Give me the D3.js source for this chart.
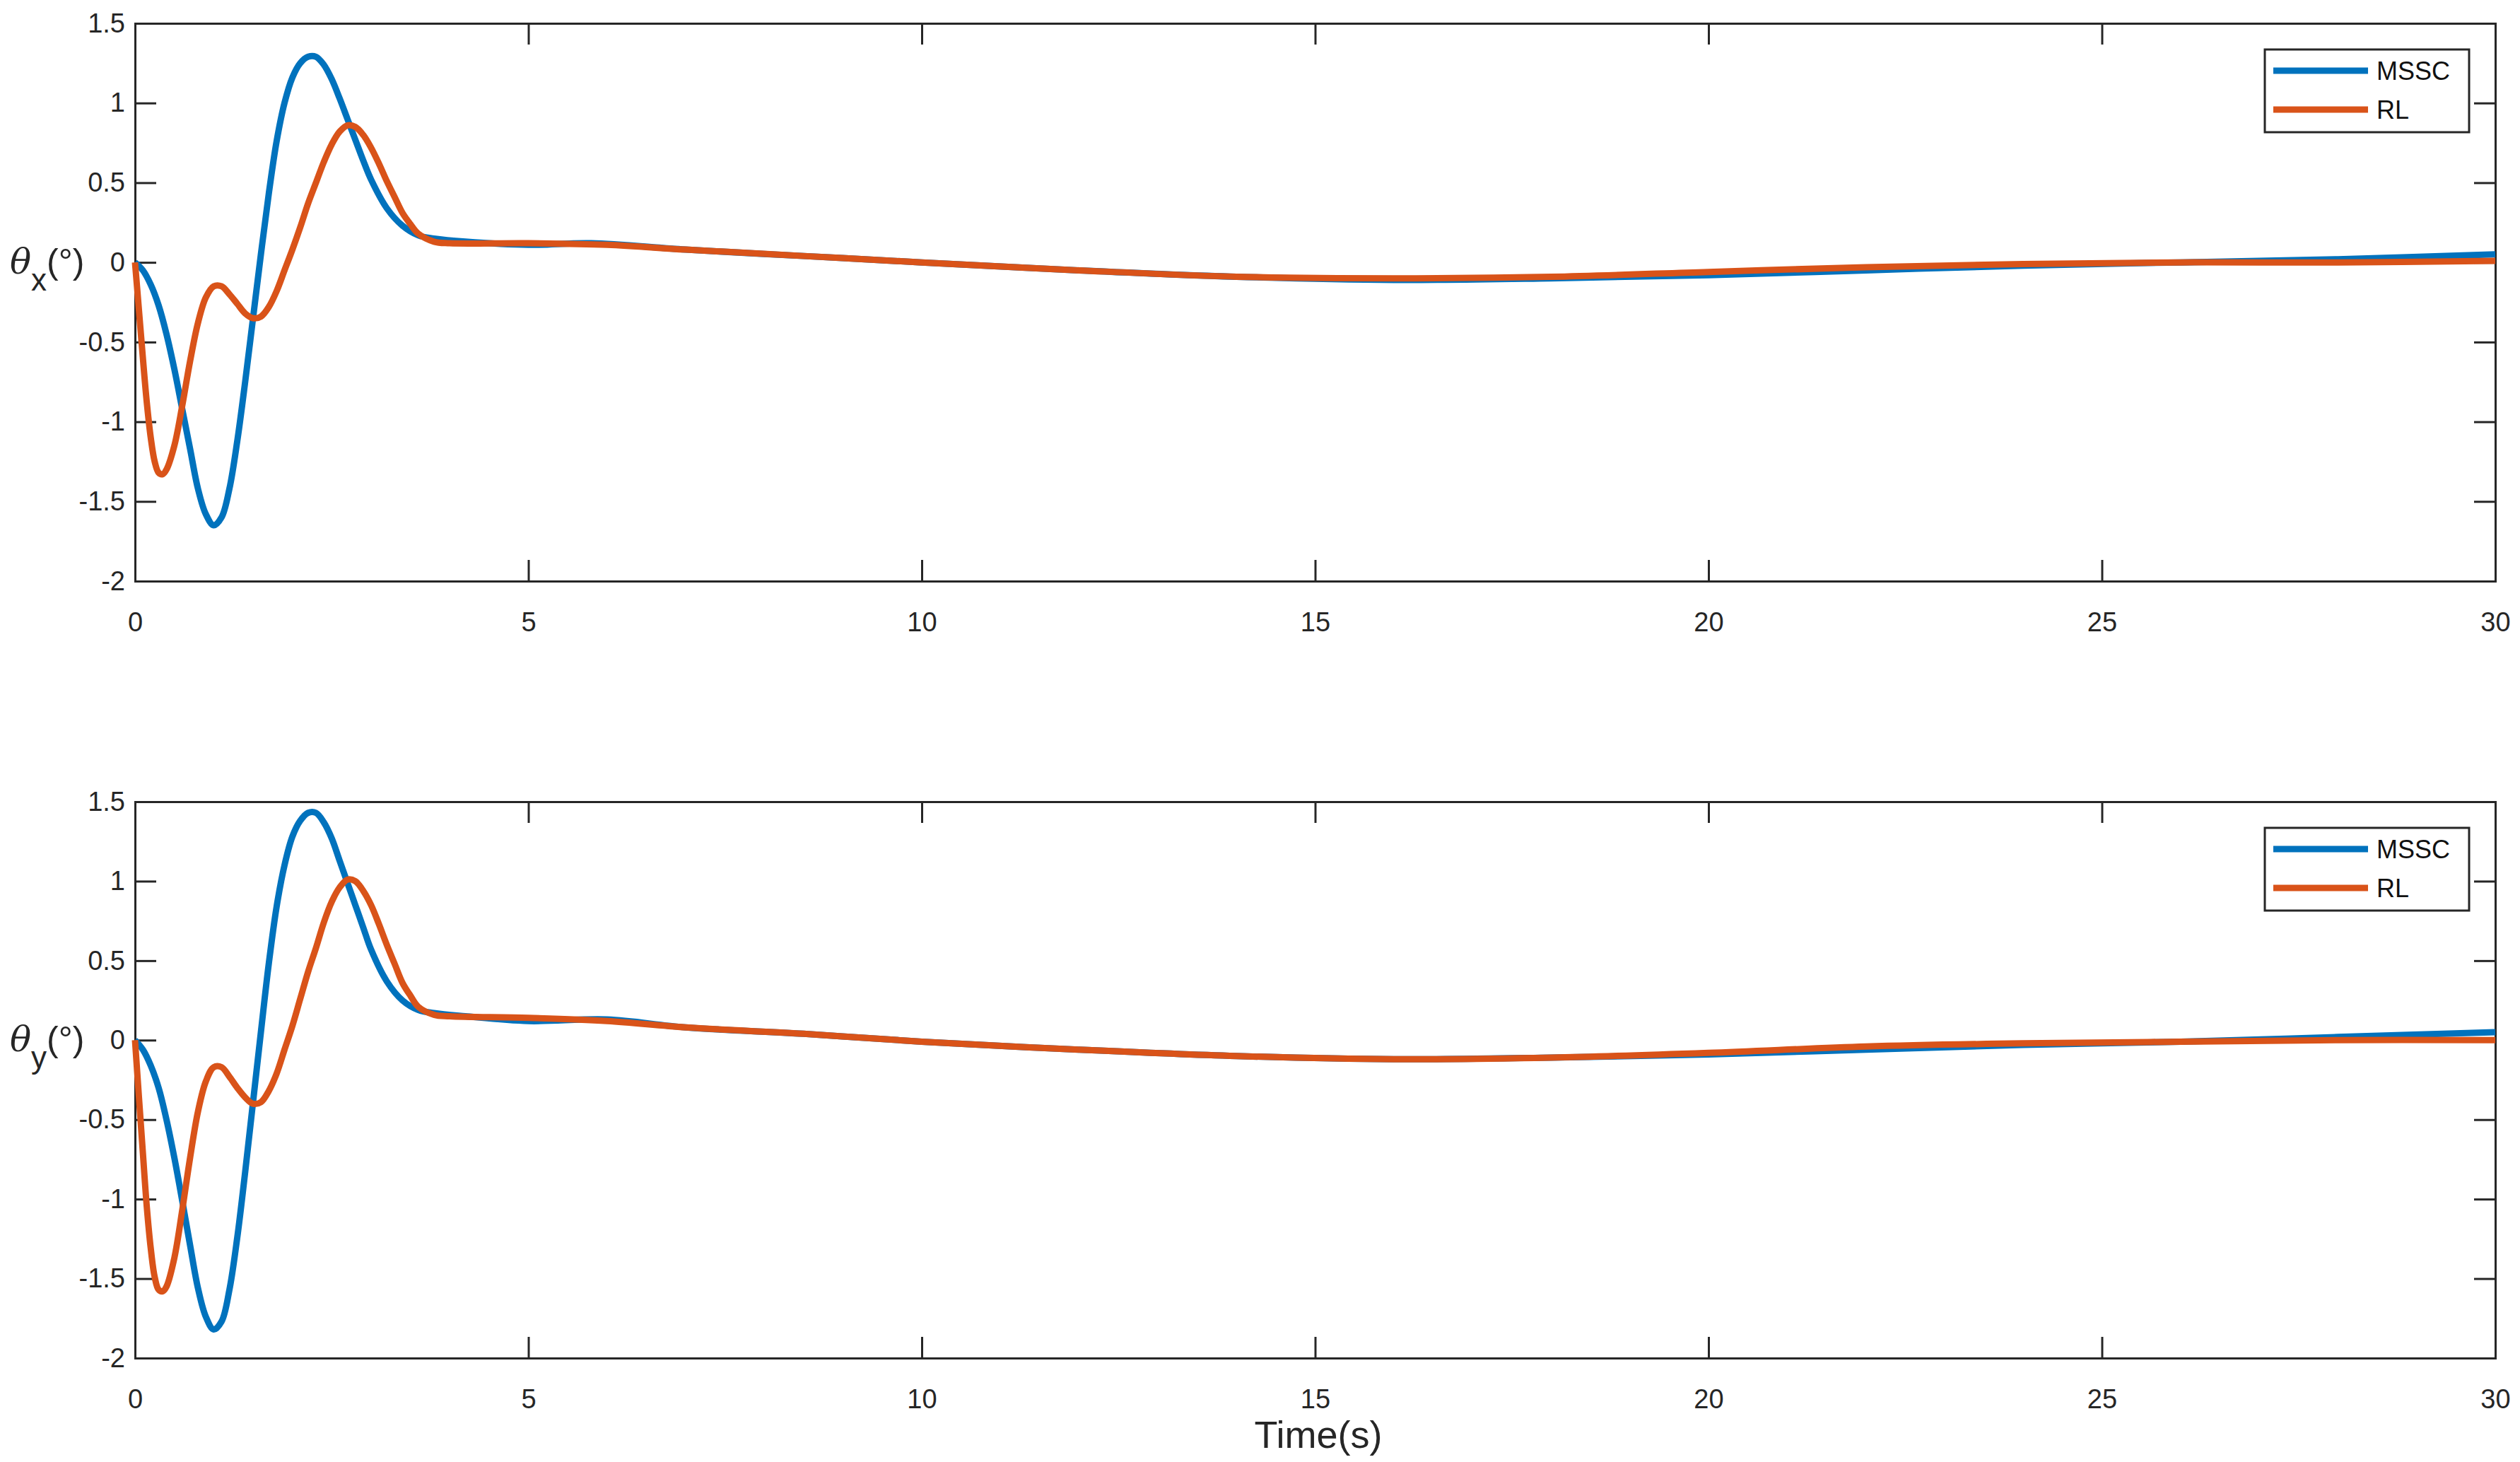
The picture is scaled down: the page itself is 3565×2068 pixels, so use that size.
<!DOCTYPE html>
<html><head><meta charset="utf-8">
<script src="https://cdn.jsdelivr.net/npm/d3@7"></script>
<style>body{margin:0;background:#fff}</style></head>
<body><svg id="c" width="3565" height="2068"></svg>
<script>
const xTicks=[0,5,10,15,20,25,30];
const yTicks=[-2,-1.5,-1,-0.5,0,0.5,1,1.5];
const seriesNames=["MSSC","RL"];
const colors=["#0072BD","#D95319"];
const tX_mssc=[[0,0],[0.1,-0.05],[0.2,-0.14],[0.3,-0.27],[0.4,-0.45],[0.5,-0.67],[0.6,-0.92],[0.7,-1.17],[0.8,-1.42],[0.9,-1.58],[1.0,-1.65],[1.1,-1.6],[1.2,-1.42],[1.3,-1.12],[1.4,-0.75],[1.5,-0.35],[1.6,0.05],[1.7,0.43],[1.8,0.76],[1.9,1.0],[2.0,1.16],[2.1,1.25],[2.2,1.29],[2.3,1.29],[2.4,1.24],[2.5,1.15],[2.6,1.03],[2.7,0.9],[2.8,0.77],[2.9,0.64],[3.0,0.52],[3.2,0.34],[3.4,0.23],[3.6,0.17],[3.8,0.15],[4.2,0.13],[5,0.11],[5.8,0.12],[7,0.08],[8.5,0.04],[10,0],[12,-0.05],[14,-0.09],[16,-0.11],[18,-0.1],[20,-0.08],[22,-0.05],[24,-0.02],[26,0],[28,0.02],[30,0.05]];
const tX_rl=[[0,0],[0.05,-0.3],[0.1,-0.6],[0.15,-0.88],[0.2,-1.1],[0.25,-1.25],[0.3,-1.32],[0.35,-1.33],[0.4,-1.3],[0.5,-1.15],[0.6,-0.9],[0.7,-0.62],[0.8,-0.38],[0.9,-0.22],[1.0,-0.15],[1.1,-0.15],[1.2,-0.2],[1.3,-0.26],[1.4,-0.32],[1.5,-0.35],[1.6,-0.34],[1.7,-0.28],[1.8,-0.18],[1.9,-0.05],[2.0,0.08],[2.1,0.22],[2.2,0.37],[2.3,0.5],[2.4,0.63],[2.5,0.74],[2.6,0.82],[2.7,0.86],[2.8,0.85],[2.9,0.8],[3.0,0.72],[3.1,0.62],[3.2,0.51],[3.3,0.41],[3.4,0.31],[3.5,0.24],[3.6,0.18],[3.8,0.13],[4.0,0.12],[5,0.12],[6,0.11],[7,0.08],[8.5,0.04],[10,0],[12,-0.05],[14,-0.09],[16,-0.1],[18,-0.09],[20,-0.06],[22,-0.03],[24,-0.01],[26,0],[28,0],[30,0.01]];
const tY_mssc=[[0,0],[0.1,-0.06],[0.2,-0.16],[0.3,-0.3],[0.4,-0.5],[0.5,-0.74],[0.6,-1.01],[0.7,-1.29],[0.8,-1.56],[0.9,-1.74],[1.0,-1.82],[1.1,-1.77],[1.2,-1.57],[1.3,-1.24],[1.4,-0.83],[1.5,-0.39],[1.6,0.05],[1.7,0.48],[1.8,0.84],[1.9,1.1],[2.0,1.28],[2.1,1.38],[2.2,1.43],[2.3,1.43],[2.4,1.37],[2.5,1.27],[2.6,1.13],[2.7,0.99],[2.8,0.85],[2.9,0.71],[3.0,0.57],[3.2,0.37],[3.4,0.25],[3.6,0.19],[3.8,0.17],[4.2,0.15],[5,0.12],[6,0.13],[7,0.08],[8.5,0.04],[10,-0.01],[12,-0.06],[14,-0.1],[16,-0.12],[18,-0.11],[20,-0.09],[22,-0.06],[24,-0.03],[26,-0.01],[28,0.02],[30,0.05]];
const tY_rl=[[0,0],[0.05,-0.36],[0.1,-0.71],[0.15,-1.05],[0.2,-1.31],[0.25,-1.49],[0.3,-1.57],[0.35,-1.58],[0.4,-1.55],[0.5,-1.37],[0.6,-1.07],[0.7,-0.74],[0.8,-0.45],[0.9,-0.26],[1.0,-0.17],[1.1,-0.17],[1.2,-0.23],[1.3,-0.3],[1.4,-0.36],[1.5,-0.4],[1.6,-0.39],[1.7,-0.32],[1.8,-0.21],[1.9,-0.06],[2.0,0.09],[2.1,0.26],[2.2,0.43],[2.3,0.58],[2.4,0.74],[2.5,0.87],[2.6,0.96],[2.7,1.01],[2.8,1.0],[2.9,0.94],[3.0,0.85],[3.1,0.73],[3.2,0.6],[3.3,0.48],[3.4,0.36],[3.5,0.28],[3.6,0.21],[3.8,0.16],[4.0,0.15],[5,0.14],[6,0.12],[7,0.08],[8.5,0.04],[10,-0.01],[12,-0.06],[14,-0.1],[16,-0.12],[18,-0.11],[20,-0.08],[22,-0.04],[24,-0.02],[26,-0.01],[28,0],[30,0]];
const panels=[{top:33,bottom:822,sub:"x",data:[tX_mssc,tX_rl]},{top:1134,bottom:1921,sub:"y",data:[tY_mssc,tY_rl]}];
const L=191,R=3530;
const svg=d3.select("#c");
const font="'Liberation Sans',Arial,sans-serif";
panels.forEach(p=>{
  const x=d3.scaleLinear().domain([0,30]).range([L,R]);
  const y=d3.scaleLinear().domain([-2,1.5]).range([p.bottom,p.top]);
  const g=svg.append("g");
  const tk=30;
  g.append("g").attr("transform",`translate(0,${p.bottom})`).call(d3.axisBottom(x).tickValues(xTicks).tickSize(-tk).tickPadding(tk+14));
  g.append("g").attr("transform",`translate(${L},0)`).call(d3.axisLeft(y).tickValues(yTicks).tickFormat(d=>d).tickSize(-tk).tickPadding(14));
  g.append("g").attr("transform",`translate(0,${p.top})`).call(d3.axisTop(x).tickValues(xTicks).tickSize(-tk).tickFormat(""));
  g.append("g").attr("transform",`translate(${R},0)`).call(d3.axisRight(y).tickValues(yTicks).tickSize(-tk).tickFormat(""));
  g.selectAll(".domain").attr("stroke","#262626").attr("stroke-width",3);
  g.selectAll(".tick line").attr("stroke","#262626").attr("stroke-width",3);
  g.selectAll(".tick text").attr("font-family",font).attr("font-size",38).attr("fill","#262626");
  const line=d3.line().x(d=>x(d[0])).y(d=>y(d[1])).curve(d3.curveCatmullRom.alpha(0.5));
  p.data.forEach((s,i)=>g.append("path").datum(s).attr("d",line).attr("fill","none").attr("stroke",colors[i]).attr("stroke-width",9).attr("stroke-linejoin","round"));
  const t=g.append("text").attr("x",14).attr("y",y(0)+16).attr("font-family",font).attr("font-size",50).attr("fill","#262626");
  t.append("tspan").attr("font-style","italic").attr("font-family","'DejaVu Serif',serif").text("θ");
  t.append("tspan").attr("dy",24).attr("font-size",44).text(p.sub);
  t.append("tspan").attr("dy",-24).text("(°)");
  const lx=3204,ly=p.top+37,lw=289,lh=117;
  g.append("rect").attr("x",lx).attr("y",ly).attr("width",lw).attr("height",lh).attr("fill","#fff").attr("stroke","#262626").attr("stroke-width",3);
  seriesNames.forEach((n,i)=>{
    const yy=ly+30+i*55;
    g.append("line").attr("x1",lx+12).attr("x2",lx+146).attr("y1",yy).attr("y2",yy).attr("stroke",colors[i]).attr("stroke-width",9);
    g.append("text").attr("x",lx+158).attr("y",yy+13).attr("font-family",font).attr("font-size",36).attr("fill","#111").text(n);
  });
});
svg.append("text").attr("x",1865).attr("y",2048).attr("text-anchor","middle").attr("font-family",font).attr("font-size",54).attr("fill","#262626").text("Time(s)");
</script></body></html>
